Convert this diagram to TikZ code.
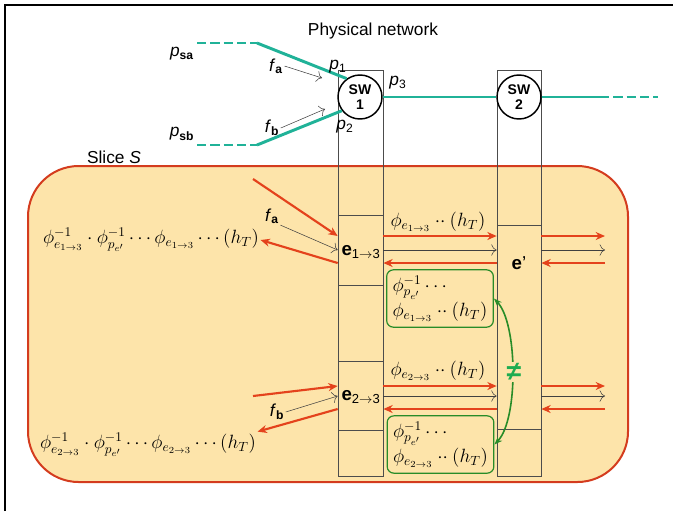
\documentclass[tikz,border=0pt]{standalone}
\usepackage{amsmath}
\usepackage{fontspec}
\setsansfont{Liberation Sans}
\usepackage{tikz}
\usetikzlibrary{arrows.meta}

\definecolor{linkteal}{RGB}{32,178,152}
\definecolor{flowred}{RGB}{228,66,28}
\definecolor{slicefill}{RGB}{253,228,170}
\definecolor{sliceedge}{RGB}{212,60,30}
\definecolor{boxgreen}{RGB}{40,140,40}
\definecolor{neqgreen}{RGB}{30,172,80}

\tikzset{
  teallink/.style={draw=linkteal, line width=2.2pt},
  tealdash/.style={teallink, dash pattern=on 7pt off 3pt},
  redarrow/.style={draw=flowred, line width=1.6pt, -{Stealth[length=7pt,width=6pt]}},
  thinarrow/.style={draw=black!75, line width=0.4pt, -{To[length=4pt]}},
  swnode/.style={circle, draw, line width=1.1pt, fill=white, minimum size=33pt, inner sep=0pt,
    font=\sffamily\bfseries\fontsize{10.5}{11.5}\selectfont, align=center},
  column/.style={draw=black!70, line width=0.5pt},
  ebox/.style={rectangle, draw=black!70, line width=0.5pt, minimum width=33.75pt, inner sep=0pt},
  greenbox/.style={rectangle, rounded corners=5pt, draw=boxgreen, line width=0.9pt,
    minimum width=80pt, minimum height=43pt, align=left, inner sep=1pt, font=\fontsize{14.4}{19}\selectfont},
  sflabel/.style={font=\sffamily\fontsize{13}{15}\selectfont, inner sep=1pt},
  elabel/.style={font=\sffamily\fontsize{14}{16}\selectfont, inner sep=0pt},
  formula/.style={font=\fontsize{14.4}{17}\selectfont, inner sep=1pt},
}

\begin{document}
\begin{tikzpicture}[x=0.75pt, y=-0.75pt]
  \useasboundingbox (0,0) rectangle (673,511);
  \draw[line width=1.2pt] (5,511) -- (5,5) -- (673,5);

  % slice
  \draw[fill=slicefill, draw=sliceedge, line width=1.5pt, rounded corners=38pt] (28,166) rectangle (628,482);
  \node[sflabel] (slicename) at (114,157) {Slice \textit{S}};
  \node[sflabel] (physname) at (373,31) {Physical network};

  % switch columns
  \draw[column] (338,70) rectangle (383,476);
  \draw[column] (497,70) rectangle (541,476);

  % physical network
  \node[swnode] (sw1) at (360,97) {SW\\1};
  \node[swnode] (sw2) at (519,97) {SW\\2};
  \coordinate (saDash) at (197,43);
  \coordinate (saBend) at (257,43);
  \coordinate (sbDash) at (197,145);
  \coordinate (sbBend) at (257,145);
  \coordinate (outSolid) at (600,97);
  \coordinate (outDash) at (658,97);
  \draw[tealdash] (saDash) -- (saBend);
  \draw[teallink] (saBend) -- (sw1.126);
  \draw[tealdash] (sbDash) -- (sbBend);
  \draw[teallink] (sbBend) -- (sw1.217);
  \draw[teallink] (sw1.east) -- (sw2.west);
  \draw[teallink] (sw2.east) -- (outSolid);
  \draw[tealdash] (outSolid) -- (outDash);

  \node[sflabel] (psa) at (182,54) {\textit{p}\textsubscript{\textbf{sa}}};
  \node[sflabel] (psb) at (182,134) {\textit{p}\textsubscript{\textbf{sb}}};
  \node[sflabel] (p1) at (338,67) {\textit{p}\textsubscript{1}};
  \node[sflabel] (p2) at (345,127) {\textit{p}\textsubscript{2}};
  \node[sflabel] (p3) at (398,83) {\textit{p}\textsubscript{3}};
  \node[sflabel] (fa1) at (276,66) {\textit{f}\textsubscript{\textbf{a}}};
  \node[sflabel] (fb1) at (272,128) {\textit{f}\textsubscript{\textbf{b}}};
  \coordinate (fa1tip) at (322,78);
  \coordinate (fb1tip) at (325,109);
  \draw[thinarrow] (fa1.east) -- (fa1tip);
  \draw[thinarrow] (fb1.east) -- (fb1tip);

  % slice elements
  \node[ebox, minimum height=52.5pt] (e13) at (360.5,250) {};
  \node[elabel] (e13name) at (361,252) {\textbf{e}\textsubscript{1$\rightarrow$3}};
  \node[ebox, minimum height=51.75pt] (e23) at (360.5,395.5) {};
  \node[elabel] (e23name) at (361,397) {\textbf{e}\textsubscript{2$\rightarrow$3}};
  \node[ebox, minimum width=33pt, minimum height=153pt] (ep) at (519,327) {};
  \node[elabel] (epname) at (519,263) {\textbf{e}'};

  % rows
  \coordinate (r1a) at (0,236);
  \coordinate (r1b) at (0,250);
  \coordinate (r1c) at (0,263);
  \coordinate (r2a) at (0,386);
  \coordinate (r2b) at (0,396);
  \coordinate (r2c) at (0,409);
  \coordinate (rend) at (605,0);
  \coordinate (in1) at (253,179);
  \coordinate (in2) at (253,396);

  \node[formula] (form1) at (151,240) {$\phi^{-1}_{e_{1\to3}}\cdot\phi^{-1}_{p_{e'}}\cdots\phi_{e_{1\to3}}\cdots(h_T)$};
  \node[formula] (form2) at (148,445) {$\phi^{-1}_{e_{2\to3}}\cdot\phi^{-1}_{p_{e'}}\cdots\phi_{e_{2\to3}}\cdots(h_T)$};
  \node[sflabel] (fa2) at (272,216) {\textit{f}\textsubscript{\textbf{a}}};
  \node[sflabel] (fb2) at (277,412) {\textit{f}\textsubscript{\textbf{b}}};

  \draw[redarrow] (in1) -- (e13.west |- r1a);
  \draw[thinarrow] (fa2.south east) -- (e13.west |- r1b);
  \draw[redarrow] (e13.west |- r1c) -- (form1.east);
  \draw[redarrow] (in2) -- (e23.west |- r2a);
  \draw[thinarrow] (fb2.east) -- (e23.west |- r2b);
  \draw[redarrow] (e23.west |- r2c) -- (form2.north east);

  \node[formula] (lab1) at (438,222) {$\phi_{e_{1\to3}}\mathbin{\cdot\cdot}(h_T)$};
  \node[formula] (lab2) at (438,371) {$\phi_{e_{2\to3}}\mathbin{\cdot\cdot}(h_T)$};
  \draw[redarrow] (e13.east |- r1a) -- (ep.west |- r1a);
  \draw[thinarrow] (e13.east |- r1b) -- (ep.west |- r1b);
  \draw[redarrow] (ep.west |- r1c) -- (e13.east |- r1c);
  \draw[redarrow] (ep.east |- r1a) -- (rend |- r1a);
  \draw[thinarrow] (ep.east |- r1b) -- (rend |- r1b);
  \draw[redarrow] (rend |- r1c) -- (ep.east |- r1c);
  \draw[redarrow] (e23.east |- r2a) -- (ep.west |- r2a);
  \draw[thinarrow] (e23.east |- r2b) -- (ep.west |- r2b);
  \draw[redarrow] (ep.west |- r2c) -- (e23.east |- r2c);
  \draw[redarrow] (ep.east |- r2a) -- (rend |- r2a);
  \draw[thinarrow] (ep.east |- r2b) -- (rend |- r2b);
  \draw[redarrow] (rend |- r2c) -- (ep.east |- r2c);

  % rewritten headers
  \node[greenbox] (gb1) at (440,298.5) {$\phi^{-1}_{p_{e'}}\cdots$\\$\phi_{e_{1\to3}}\mathbin{\cdot\cdot}(h_T)$};
  \node[greenbox] (gb2) at (440.5,444.5) {$\phi^{-1}_{p_{e'}}\cdots$\\$\phi_{e_{2\to3}}\mathbin{\cdot\cdot}(h_T)$};
  \draw[draw=boxgreen, line width=1.2pt, {Stealth[length=6pt]}-{Stealth[length=6pt]}]
    (gb1.east) .. controls +(24,25) and +(24,-25) .. (gb2.east);
  \node[fill=slicefill, text=neqgreen, inner sep=1pt, font=\sffamily\bfseries\fontsize{20}{22}\selectfont] (neq) at (514,372) {≠};
\end{tikzpicture}
\end{document}
